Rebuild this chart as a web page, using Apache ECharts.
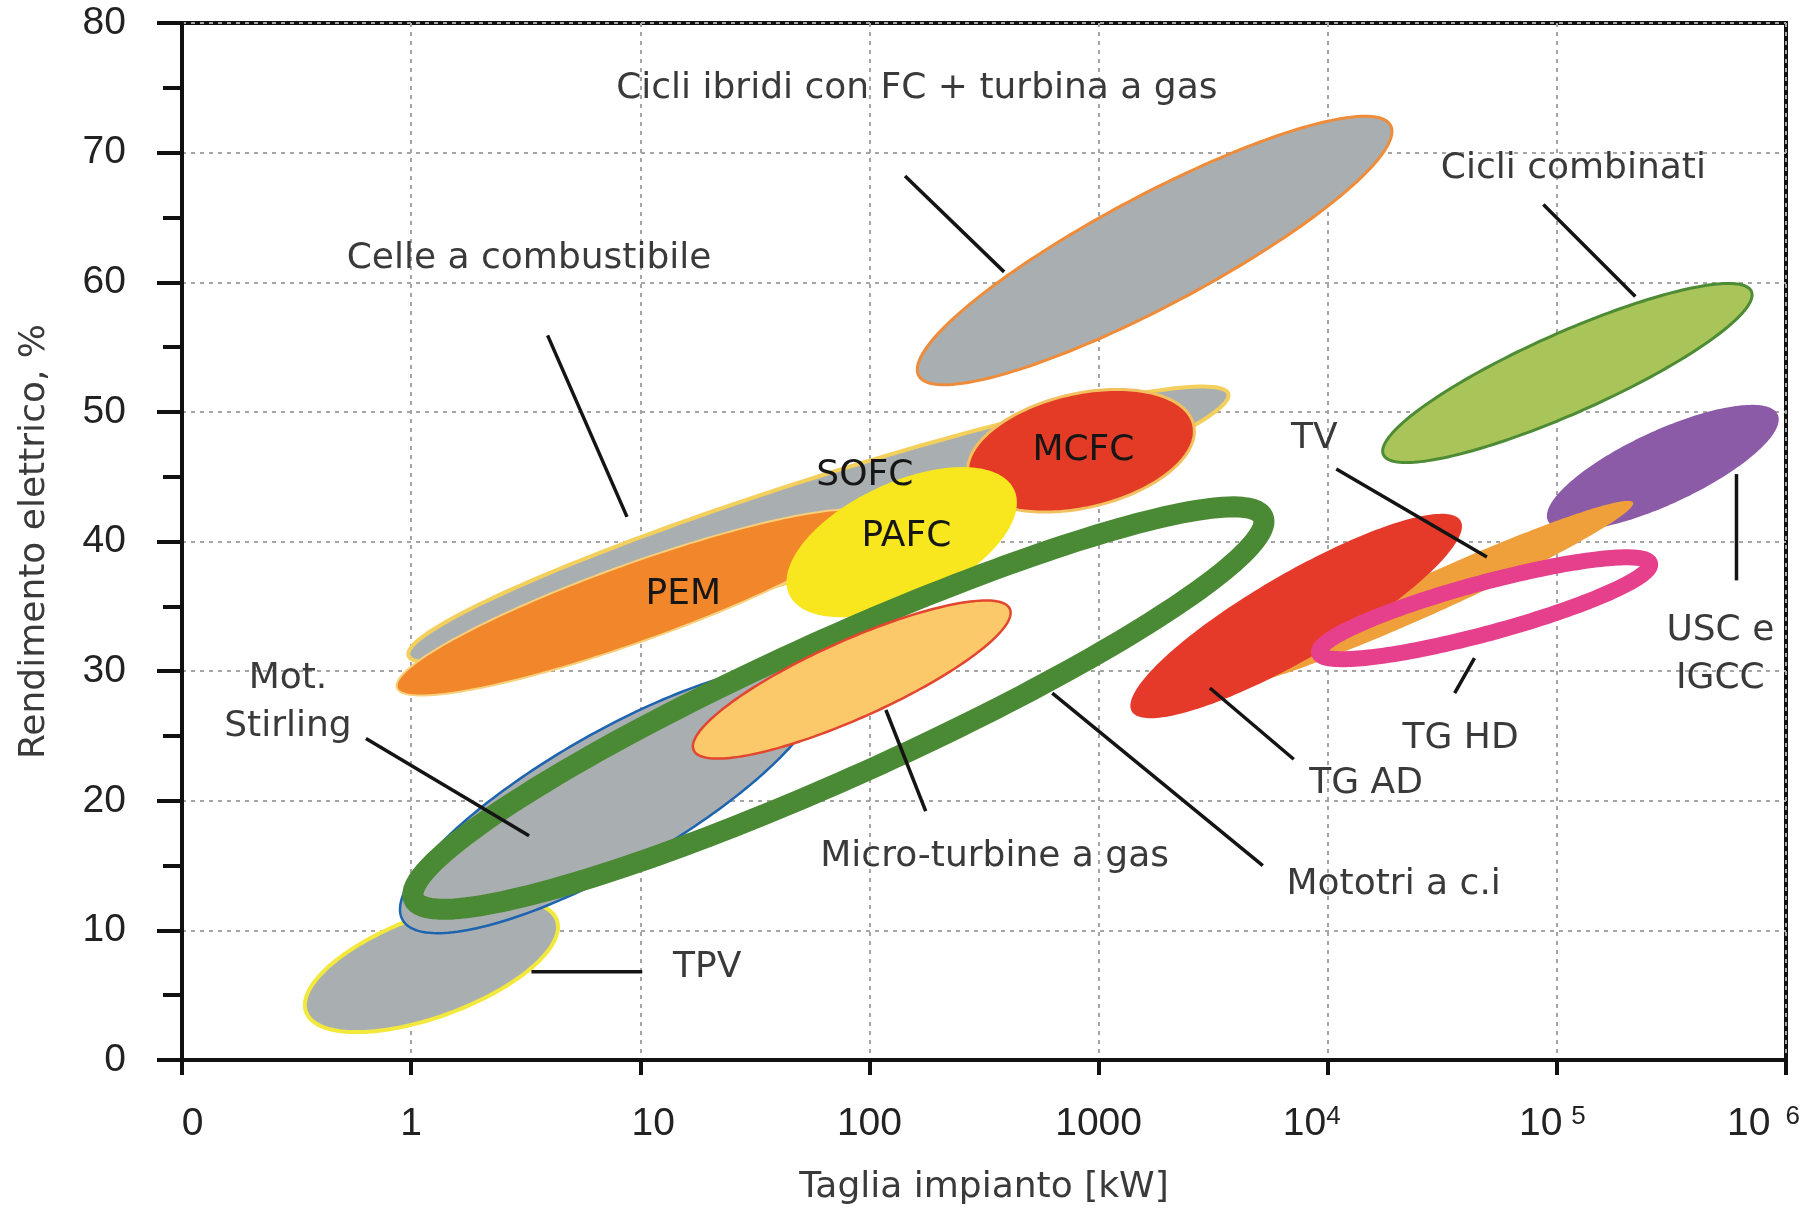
<!DOCTYPE html>
<html>
<head>
<meta charset="utf-8">
<script src="https://cdn.jsdelivr.net/npm/echarts@6/dist/echarts.min.js"></script>
<style>
  html, body { margin: 0; padding: 0; background: #ffffff; }
  #chart { width: 1803px; height: 1211px; }
</style>
</head>
<body>
<div id="chart"></div>
<script>
// ---------------- DATA ----------------
// x axis tick labels (log decades 0.1 ... 1e6)
const xTickLabels = ['0', '1', '10', '100', '1000', '10^4', '10^5', '10^6'];
const yTickValues = [0, 10, 20, 30, 40, 50, 60, 70, 80];

// Each region is an ellipse given by the two ends of its long axis
// (plant size in kW, electric efficiency in %) and its half width (in % units).
const ellipseNames = ['TPV', 'Celle a combustibile', 'PEM', 'MCFC', 'PAFC', 'Mot. Stirling',
  'Motori a c.i.', 'Micro-turbine a gas', 'Cicli ibridi', 'Cicli combinati',
  'USC e IGCC', 'TV', 'TG AD', 'TG HD'];
const sizeFromKW = [0.348, 0.974, 0.867, 270, 44.7, 0.918, 1.027, 17.1, 164, 17500, 91400, 3770, 1396, 9170];
const effFrom    = [3.7, 31.2, 28.7, 45.0, 35.9, 10.8, 12.4, 23.9, 52.8, 46.7, 41.6, 29.0, 26.9, 31.4];
const sizeToKW   = [4.32, 3680, 105, 2600, 428, 60.3, 5220, 410, 18800, 706000, 920000, 215000, 38000, 255000];
const effTo      = [10.8, 51.4, 41.9, 49.0, 44.0, 29.3, 41.9, 34.8, 72.1, 59.3, 49.8, 43.0, 41.6, 38.3];
const effHalfWidth = [3.9, 3.55, 3.0, 4.4, 4.57, 5.14, 5.3, 3.0, 4.26, 3.1, 2.84, 1.5, 3.3, 1.95];

// Annotation texts and their anchor positions
const labelTexts = ['Cicli ibridi con FC + turbina a gas', 'Cicli combinati', 'Celle a combustibile',
  'SOFC', 'MCFC', 'PAFC', 'PEM', 'TV', 'Mot.\nStirling', 'Micro-turbine a gas', 'Mototri a c.i',
  'TG AD', 'TG HD', 'USC e\nIGCC', 'TPV'];
const labelKW  = [161, 118000, 3.27, 95.5, 859, 145, 15.4, 8750, 0.29, 352, 19400, 14700, 38000, 517000, 19.6];
const labelEff = [74.9, 68.8, 61.8, 45.1, 47.0, 40.4, 35.9, 47.9, 27.6, 15.7, 13.5, 21.3, 24.8, 31.3, 7.1];
const labelInside = [false, false, false, true, true, true, true, false, false, false, false, false, false, false, false];

// Leader lines
const leaderFromKW  = [143, 87300, 3.94, 0.635, 3.35, 118, 628, 3060, 43700, 10900, 608000];
const leaderFromEff = [68.2, 66.0, 55.9, 24.8, 6.8, 27.0, 28.3, 28.7, 31.0, 45.6, 45.2];
const leaderToKW    = [387, 220000, 8.75, 3.27, 10.2, 176, 5210, 7110, 35800, 49500, 608000];
const leaderToEff   = [60.8, 58.9, 41.9, 17.3, 6.8, 19.2, 15.0, 23.2, 28.3, 38.8, 37.0];

// ---------------- STYLES ----------------
const GRAY = '#a9aeb1';
const ellipseStyles = {
  'TPV':                  { fill: GRAY, stroke: '#f2e93c', width: 4 },
  'Celle a combustibile': { fill: GRAY, stroke: '#f3cf5b', width: 4 },
  'PEM':                  { fill: '#f2862b', stroke: '#f8cf7a', width: 2 },
  'MCFC':                 { fill: '#e43b27', stroke: '#f2c05e', width: 3 },
  'PAFC':                 { fill: '#f8e71e', stroke: null, width: 0 },
  'Mot. Stirling':        { fill: GRAY, stroke: '#1d64b0', width: 2.5 },
  'Motori a c.i.':        { fill: null, stroke: '#4b8a35', width: 21 },
  'Micro-turbine a gas':  { fill: '#fcc96a', stroke: '#e2462e', width: 2.5 },
  'Cicli ibridi':         { fill: GRAY, stroke: '#ee8c3a', width: 3 },
  'Cicli combinati':      { fill: '#a9c55a', stroke: '#4d8b34', width: 3 },
  'USC e IGCC':           { fill: '#8b5ba7', stroke: null, width: 0 },
  'TV':                   { fill: '#f0a03a', stroke: null, width: 0 },
  'TG AD':                { fill: '#e53a2a', stroke: null, width: 0 },
  'TG HD':                { fill: null, stroke: '#e6408c', width: 16 }
};

const chart = echarts.init(document.getElementById('chart'), null, { renderer: 'canvas' });

function renderEllipse(params, api) {
  const name = ellipseNames[params.dataIndex];
  const st = ellipseStyles[name];
  const p1 = api.coord([api.value(0), api.value(1)]);
  const p2 = api.coord([api.value(2), api.value(3)]);
  const q = api.coord([api.value(0), api.value(1) + api.value(4)]);
  const b = Math.abs(q[1] - p1[1]);
  const cx = (p1[0] + p2[0]) / 2, cy = (p1[1] + p2[1]) / 2;
  const dx = p2[0] - p1[0], dy = p2[1] - p1[1];
  const a = Math.sqrt(dx * dx + dy * dy) / 2;
  const ux = dx / (2 * a), uy = dy / (2 * a);
  const nx = -uy, ny = ux;
  const pts = [];
  const N = 200;
  for (let k = 0; k < N; k++) {
    const t = 2 * Math.PI * k / N;
    const ca = a * Math.cos(t), sb = b * Math.sin(t);
    pts.push([cx + ca * ux + sb * nx, cy + ca * uy + sb * ny]);
  }
  return {
    type: 'polygon',
    shape: { points: pts },
    style: {
      fill: st.fill || 'none',
      stroke: st.stroke || 'none',
      lineWidth: st.width || 0,
      lineJoin: 'round'
    }
  };
}

function renderLeader(params, api) {
  const p1 = api.coord([api.value(0), api.value(1)]);
  const p2 = api.coord([api.value(2), api.value(3)]);
  return {
    type: 'line',
    shape: { x1: p1[0], y1: p1[1], x2: p2[0], y2: p2[1] },
    style: { stroke: '#141414', lineWidth: 3.5, lineCap: 'butt' }
  };
}

function renderLabel(params, api) {
  const i = params.dataIndex;
  const p = api.coord([api.value(0), api.value(1)]);
  return {
    type: 'text',
    x: p[0], y: p[1],
    style: {
      text: labelTexts[i],
      fontFamily: 'DejaVu Sans',
      fontSize: 36,
      lineHeight: 48,
      fill: labelInside[i] ? '#161616' : '#3a3a3a',
      align: 'center',
      verticalAlign: 'middle'
    }
  };
}

const LF = 'Liberation Sans';
const xRich = {
  b: { fontFamily: LF, fontSize: 39, lineHeight: 40, color: '#222' },
  z: { fontFamily: LF, fontSize: 39, lineHeight: 40, color: '#222', padding: [0, 0, 0, 21] },
  t: { fontFamily: LF, fontSize: 39, lineHeight: 40, color: '#222', padding: [0, 0, 0, 26] },
  s4: { fontFamily: LF, fontSize: 26, lineHeight: 25, color: '#222', verticalAlign: 'top', padding: [0, 32, 0, 0] },
  s5: { fontFamily: LF, fontSize: 26, lineHeight: 25, color: '#222', verticalAlign: 'top', padding: [0, 9, 0, 9] },
  s6: { fontFamily: LF, fontSize: 26, lineHeight: 25, color: '#222', verticalAlign: 'top', padding: [0, 45, 0, 15] }
};

function xLabel(v) {
  const e = Math.round(Math.log10(v));
  const lab = xTickLabels[e + 1];
  if (lab === undefined) return '';
  if (lab.indexOf('^') >= 0) {
    const parts = lab.split('^');
    return '{b|' + parts[0] + '}{s' + parts[1] + '|' + parts[1] + '}';
  }
  if (lab === '0') return '{z|0}';
  if (lab === '10') return '{t|10}';
  return '{b|' + lab + '}';
}

const option = {
  backgroundColor: '#ffffff',
  animation: false,
  grid: {
    left: 182, right: 17, top: 23, bottom: 151,
    outerBoundsMode: 'none', containLabel: false,
    show: true, borderColor: '#111', borderWidth: 4, backgroundColor: 'transparent'
  },
  xAxis: {
    type: 'log', logBase: 10, min: 0.1, max: 1000000,
    name: 'Taglia impianto [kW]', nameLocation: 'middle', nameGap: 110,
    nameTextStyle: { fontFamily: 'DejaVu Sans', fontSize: 36, color: '#3a3a3a' },
    axisLine: { show: true, lineStyle: { color: '#111', width: 4 } },
    axisTick: { show: true, inside: false, length: 15, lineStyle: { color: '#111', width: 4 } },
    minorTick: { show: false },
    axisLabel: { margin: 44, formatter: xLabel, rich: xRich, showMinLabel: true, showMaxLabel: true },
    splitLine: { show: true, lineStyle: { color: '#a5a5a5', width: 2, type: [4, 5] } }
  },
  yAxis: {
    type: 'value', min: 0, max: 80, interval: 10,
    name: 'Rendimento elettrico, %', nameLocation: 'middle', nameGap: 129, nameRotate: 90,
    nameTextStyle: { fontFamily: 'DejaVu Sans', fontSize: 36, color: '#3a3a3a' },
    axisLine: { show: true, lineStyle: { color: '#111', width: 4 } },
    axisTick: { show: true, inside: false, length: 25, lineStyle: { color: '#111', width: 4 } },
    minorTick: { show: true, splitNumber: 2, length: 19, lineStyle: { color: '#111', width: 4 } },
    axisLabel: {
      margin: 56, fontFamily: LF, fontSize: 39, color: '#222',
      formatter: function (v) { return yTickValues.indexOf(v) >= 0 ? String(v) : ''; }
    },
    splitLine: { show: true, lineStyle: { color: '#a5a5a5', width: 2, type: [4, 5] } }
  },
  series: [
    {
      type: 'custom', name: 'regions', silent: true,
      renderItem: renderEllipse,
      encode: { x: [0, 2], y: [1, 3] },
      data: ellipseNames.map((n, i) => [sizeFromKW[i], effFrom[i], sizeToKW[i], effTo[i], effHalfWidth[i]]),
      z: 2
    },
    {
      type: 'custom', name: 'leaders', silent: true,
      renderItem: renderLeader,
      encode: { x: [0, 2], y: [1, 3] },
      data: leaderFromKW.map((v, i) => [leaderFromKW[i], leaderFromEff[i], leaderToKW[i], leaderToEff[i]]),
      z: 3
    },
    {
      type: 'custom', name: 'labels', silent: true,
      renderItem: renderLabel,
      encode: { x: 0, y: 1 },
      data: labelTexts.map((t, i) => [labelKW[i], labelEff[i]]),
      z: 4
    }
  ]
};

chart.setOption(option);
</script>
</body>
</html>
